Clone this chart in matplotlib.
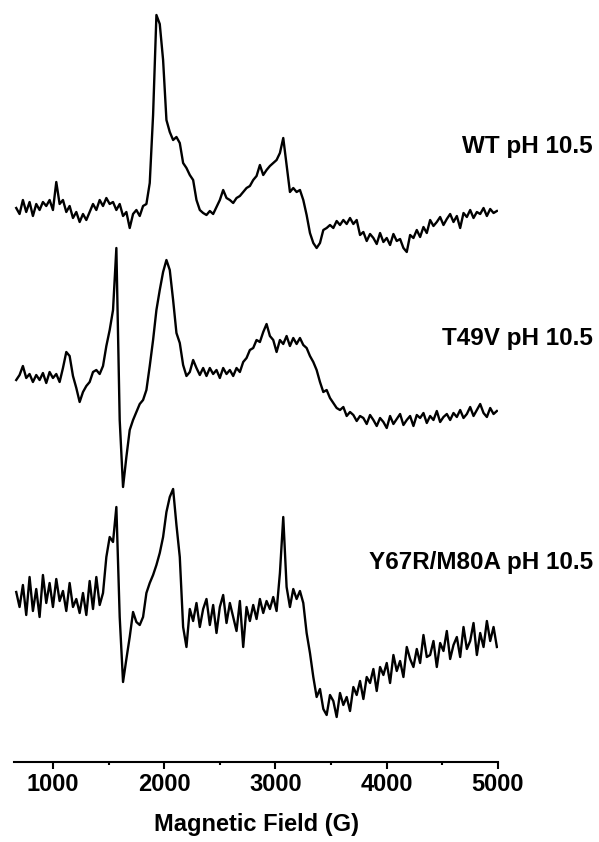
import numpy as np
import matplotlib
matplotlib.use("Agg")
import matplotlib.pyplot as plt

plt.rcParams['font.family'] = ['Liberation Sans', 'DejaVu Sans']
plt.rcParams['font.weight'] = 'bold'

# magnetic field sampling (G)
field = np.arange(670, 5000, 30)

# EPR signal, arbitrary units
wt = [0, -6, 8, -4, 6, -8, 4, -2, 6, 2, 8, -2, 26, 4, 8, -4, 2, -10, -4, -14,
      -6, -12, -4, 4, -2, 8, 2, 10, 4, 6, -2, 4, -8, -4, -20, -6, -2, -8, 2, 4,
      25, 93, 193, 184, 148, 88, 76, 68, 71, 65, 45, 40, 33, 28, 8, -2, -5, -7, -3, -6,
      1, 8, 18, 10, 8, 5, 10, 12, 16, 20, 22, 28, 32, 43, 33, 38, 42, 45, 48, 55,
      70, 43, 16, 20, 16, 18, 8, -7, -25, -35, -40, -35, -22, -20, -17, -20, -13, -17, -12, -16,
      -10, -16, -12, -27, -24, -33, -26, -30, -36, -25, -34, -30, -37, -26, -33, -31, -40, -44, -27, -30,
      -22, -29, -19, -25, -12, -18, -14, -9, -17, -11, -6, -14, -8, -20, -5, -9, -2, -10, -4, -6,
      0, -8, -1, -5, -3]

t49v = [0, 5, 14, 2, 6, -2, 5, 0, 7, -3, 8, 2, 6, -2, 12, 28, 24, 4, -8, -22,
        -12, -6, -2, 8, 10, 6, 14, 34, 50, 70, 132, -40, -107, -77, -50, -40, -32, -24, -20, -10,
        14, 40, 70, 90, 108, 120, 110, 80, 47, 37, 15, 4, 8, 20, 12, 5, 12, 4, 12, 6,
        10, 2, 12, 6, 10, 4, 12, 8, 18, 22, 30, 32, 40, 38, 48, 56, 44, 40, 28, 40,
        36, 44, 34, 42, 36, 42, 35, 32, 24, 18, 10, -2, -12, -10, -18, -23, -28, -30, -27, -36,
        -32, -35, -41, -36, -38, -44, -35, -40, -46, -38, -42, -48, -36, -44, -39, -34, -45, -40, -36, -46,
        -35, -38, -33, -43, -36, -40, -31, -42, -37, -34, -40, -33, -37, -30, -38, -34, -27, -36, -30, -24,
        -33, -37, -28, -34, -31]

y67r = [5, -10, 12, -18, 20, -14, 8, -20, 22, -6, 14, -10, 18, -4, 6, -14, 14, -10, -2, -16,
        4, -18, 16, -12, 20, -8, 4, 40, 60, 55, 90, -20, -85, -62, -40, -15, -25, -28, -20, 4,
        14, 22, 32, 44, 60, 85, 100, 108, 72, 40, -30, -50, -12, -24, -6, -30, -12, -2, -28, -8,
        -36, -10, 2, -26, -6, -20, -34, -4, -50, -10, -24, -8, -22, -2, -16, -4, -12, 0, -14, 24,
        80, 10, -10, 8, -2, 6, -6, -36, -56, -80, -100, -92, -112, -118, -98, -104, -120, -96, -108, -100,
        -114, -90, -98, -84, -102, -80, -86, -72, -94, -70, -78, -66, -86, -58, -74, -64, -80, -50, -62, -70,
        -52, -66, -38, -60, -58, -44, -70, -46, -54, -34, -62, -48, -40, -60, -30, -52, -44, -26, -58, -36,
        -50, -24, -44, -30, -50]

labels = ["WT pH 10.5", "T49V pH 10.5", "Y67R/M80A pH 10.5"]
offsets = [554, 382, 165]
label_y = [147, 339, 563]

fig = plt.figure(figsize=(5.99, 8.42), dpi=100)
ax = fig.add_axes([14 / 599, 80 / 842, 484 / 599, 762 / 842])

for sig, off in zip([wt, t49v, y67r], offsets):
    ax.plot(field, np.array(sig) + off, color="black", lw=1.7)

for lab, ly in zip(labels, label_y):
    fig.text(593 / 599, 1 - ly / 842, lab, ha="right", va="center",
             fontsize=17.5, fontweight="bold")

ax.set_xlim(650, 5000)
ax.set_ylim(0, 762)
for s in ["left", "right", "top"]:
    ax.spines[s].set_visible(False)
ax.spines["bottom"].set_linewidth(1.5)
ax.set_yticks([])
ax.set_xticks([1000, 2000, 3000, 4000, 5000])
ax.set_xticks([1500, 2500, 3500, 4500], minor=True)
ax.tick_params(axis="x", which="major", length=5, width=1.5, labelsize=17, pad=3)
ax.tick_params(axis="x", which="minor", length=2.5, width=1.5)
for t in ax.get_xticklabels():
    t.set_fontweight("bold")
ax.set_xlabel("Magnetic Field (G)", fontsize=17, fontweight="bold", labelpad=12)

fig.savefig("out.png", dpi=100)
